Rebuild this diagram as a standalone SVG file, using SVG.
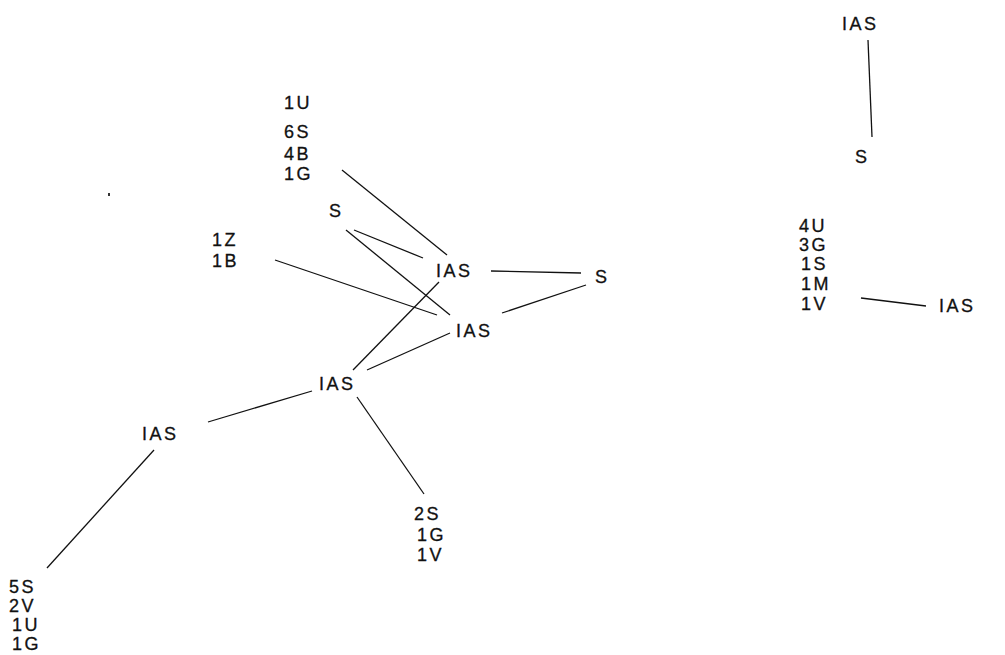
<svg xmlns="http://www.w3.org/2000/svg" width="1005" height="655" viewBox="0 0 1005 655">
<style>
text{font-family:"Liberation Sans",Arial,sans-serif;font-size:18px;fill:#111;letter-spacing:2.5px;stroke:#111;stroke-width:0.3}
.c line{stroke:#111;stroke-width:1.3;fill:none}
</style>
<rect width="1005" height="655" fill="#fff"/>
<g class="c" id="connectors">
<line x1="342" y1="170" x2="447" y2="255"/>
<line x1="354" y1="230" x2="423" y2="258"/>
<line x1="346" y1="230" x2="450" y2="315"/>
<line x1="275" y1="260" x2="437" y2="315"/>
<line x1="491" y1="271" x2="581" y2="273"/>
<line x1="586" y1="285" x2="502" y2="313"/>
<line x1="439" y1="282" x2="353" y2="370"/>
<line x1="450" y1="333" x2="367" y2="370"/>
<line x1="312" y1="391" x2="208" y2="422"/>
<line x1="357" y1="397" x2="424" y2="494"/>
<line x1="154" y1="450" x2="47" y2="568"/>
<line x1="868" y1="40" x2="872" y2="137"/>
<line x1="861" y1="298" x2="926" y2="306"/>
</g>
<g id="n_topleft"><text x="284" y="109">1U</text><text x="284" y="138">6S</text><text x="284" y="160">4B</text><text x="284" y="180">1G</text></g>
<g id="n_s_upper"><text x="329" y="217">S</text></g>
<g id="n_1z"><text x="212" y="246">1Z</text><text x="212" y="267">1B</text></g>
<g id="n_ias1"><text x="436" y="277">IAS</text></g>
<g id="n_s_right"><text x="595" y="283">S</text></g>
<g id="n_ias2"><text x="456" y="337">IAS</text></g>
<g id="n_ias3"><text x="319" y="390">IAS</text></g>
<g id="n_ias4"><text x="142" y="440">IAS</text></g>
<g id="n_2s"><text x="414" y="520">2S</text><text x="417" y="541">1G</text><text x="417" y="561">1V</text></g>
<g id="n_5s"><text x="9" y="593">5S</text><text x="9" y="612">2V</text><text x="12" y="631">1U</text><text x="12" y="650">1G</text></g>
<g id="n_ias_top"><text x="842" y="30">IAS</text></g>
<g id="n_s_top"><text x="855" y="163">S</text></g>
<g id="n_4u"><text x="799" y="232">4U</text><text x="799" y="251">3G</text><text x="801" y="270">1S</text><text x="801" y="290">1M</text><text x="801" y="310">1V</text></g>
<g id="n_ias_right"><text x="939" y="312">IAS</text></g>
<rect x="108" y="193" width="2" height="3" fill="#333"/>
</svg>
